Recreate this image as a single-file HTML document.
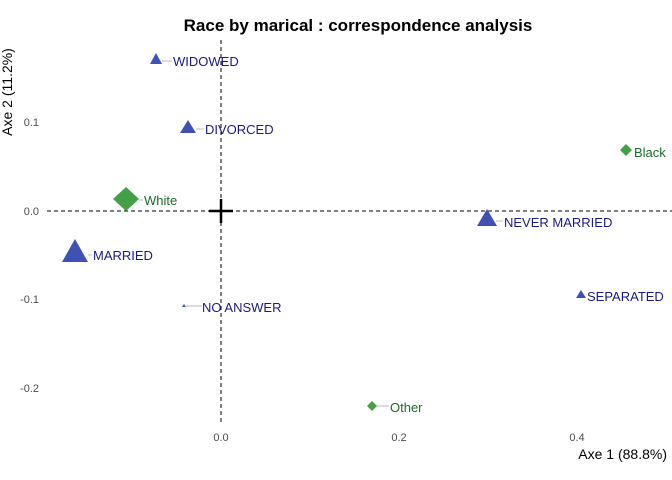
<!DOCTYPE html>
<html><head><style>body{margin:0;background:#fff}svg{display:block}</style></head><body>
<svg width="672" height="480" xmlns="http://www.w3.org/2000/svg" font-family="Liberation Sans, sans-serif">
<rect width="672" height="480" fill="#fff"/>
<text x="358" y="31" text-anchor="middle" font-size="17" font-weight="bold" fill="#000">Race by marical : correspondence analysis</text>
<line x1="47" y1="211" x2="672" y2="211" stroke="#000" stroke-dasharray="4,3"/>
<line x1="221" y1="40" x2="221" y2="422" stroke="#000" stroke-dasharray="4,3"/>
<line x1="209" y1="211" x2="233" y2="211" stroke="#000" stroke-width="2.5"/>
<line x1="221" y1="199" x2="221" y2="223" stroke="#000" stroke-width="2.5"/>
<g font-size="11" fill="#4d4d4d">
<text x="39" y="126" text-anchor="end">0.1</text>
<text x="39" y="215" text-anchor="end">0.0</text>
<text x="39" y="303" text-anchor="end">-0.1</text>
<text x="39" y="392" text-anchor="end">-0.2</text>
<text x="221" y="441" text-anchor="middle">0.0</text>
<text x="399" y="441" text-anchor="middle">0.2</text>
<text x="577" y="441" text-anchor="middle">0.4</text>
</g>
<text x="667" y="459" text-anchor="end" font-size="14" fill="#000">Axe 1 (88.8%)</text>
<text transform="translate(12,92) rotate(-90)" text-anchor="middle" font-size="14" fill="#000">Axe 2 (11.2%)</text>
<g stroke="#bbb" stroke-width="1">
<line x1="162" y1="61" x2="172" y2="61"/>
<line x1="196" y1="129" x2="204" y2="129"/>
<line x1="88" y1="255" x2="92" y2="255"/>
<line x1="496" y1="221" x2="503" y2="221"/>
<line x1="186" y1="306" x2="202" y2="306"/>
<line x1="139" y1="200" x2="143" y2="200"/>
<line x1="377" y1="406" x2="389" y2="406"/>
</g>
<g fill="#3f51b5">
<polygon points="156,53 150,64 162,64"/>
<polygon points="188,120 180,133 196,133"/>
<polygon points="75,239 62,262 88,262"/>
<polygon points="487,209 477,226 497,226"/>
<polygon points="581,290 576,298 586,298"/>
<polygon points="184,304 182,307 186,307"/>
</g>
<g fill="#43a047">
<polygon points="126,187 139,199 126,211 113,199"/>
<polygon points="626,144 632,150 626,156 620,150"/>
<polygon points="372,401 377,406 372,411 367,406"/>
</g>
<g font-size="13" fill="#1a1a80">
<text x="173" y="66">WIDOWED</text>
<text x="205" y="134">DIVORCED</text>
<text x="93" y="260">MARRIED</text>
<text x="504" y="227">NEVER MARRIED</text>
<text x="587" y="301">SEPARATED</text>
<text x="202" y="312">NO ANSWER</text>
</g>
<g font-size="13" fill="#1b6b2a">
<text x="144" y="205">White</text>
<text x="634" y="157">Black</text>
<text x="390" y="412">Other</text>
</g>
</svg>
</body></html>
